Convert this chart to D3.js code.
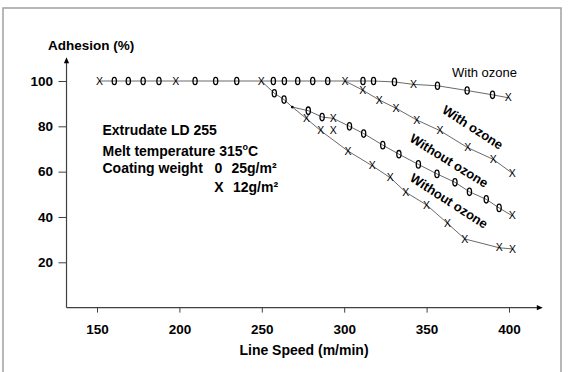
<!DOCTYPE html>
<html><head><meta charset="utf-8">
<script src="https://cdn.jsdelivr.net/npm/d3@7"></script>
<style>
body{margin:0;background:#fff}
svg{display:block}
text{font-family:Arial,"Liberation Sans",sans-serif;fill:#000}
</style>
</head><body>
<svg id="c" width="568" height="372"></svg>
<script>
// ---- data ----
const xTicks = [150, 200, 250, 300, 350, 400];
const yTicks = [20, 40, 60, 80, 100];

// With ozone, 25 g/m² (top line, X points of 12 g/m² coincide at 100 %)
const s1X = [151.5,160.5,169,178,187.6,197.8,209.5,222,234.8,249.7,257,263.7,271.8,280.9,290,300.5,311.4,317.8,330.5,342,356.6,374.6,390,399.6];
const s1Y = [100,100,100,100,100,100,100,100,100,100,100,100,100,100,100,100,100,100,99.6,98.5,97.9,95.8,93.9,92.6];
const s1M = ["X","0","0","0","0","X","0","0","0","X","0","0","0","0","0","X","0","0","0","X","0","0","0","X"];

// With ozone, 12 g/m²
const s2X = [300.5,311.2,321.3,331.4,344,358.1,374.9,390.5,402];
const s2Y = [100,96,91.6,88,82.8,78.1,70.6,65.4,59.3];
const s2M = ["","X","X","X","X","X","X","X","X"];

// Without ozone, 25 g/m²
const s3X = [249.7,257.6,263.5,268.5,278.2,286.6,293.4,303.2,311.8,323.4,333.2,345,356.3,367.2,376,386.2,394,402];
const s3Y = [100,94.6,91.8,88.5,86.9,84.1,83.5,80,76.8,71.7,67.7,63.2,59,55.3,51.1,47.8,44,40.5];
const s3M = ["","0","0","dot","0","0","X","0","0","0","0","0","0","0","0","0","0","X"];

// Without ozone, 12 g/m²
const s4X = [268.5,277.1,285.7,302.3,317,328,337.4,350,362.7,373.2,394.1,402.2];
const s4Y = [88.5,83.4,78.1,69.1,62.6,57.3,50.9,45.3,37.2,30.3,26.4,25.9];
const s4M = ["","X","X","X","X","X","X","X","X","X","X","X"];

// stray point
const extraX = [293.4];
const extraY = [78.1];
const extraM = ["X"];

const seriesLabels = ["With ozone", "With ozone", "Without ozone", "Without ozone"];
const infoLines = ["Extrudate LD 255", "Melt temperature 315", "Coating weight", "0", "25g/m²", "X", "12g/m²"];

// ---- drawing ----
const svg = d3.select("#c");
const x = d3.scaleLinear().domain([150, 400]).range([97, 509]);
const y = d3.scaleLinear().domain([20, 100]).range([262.3, 81]);

// frame
svg.append("rect").attr("x", 3).attr("y", 8).attr("width", 558).attr("height", 370)
  .attr("fill", "none").attr("stroke", "#a0a0a0").attr("stroke-width", 1.5);

const axisColor = "#404040";
const x0 = x(131.5), y0 = y(0);

// axes
const gx = svg.append("g").attr("transform", `translate(0,${y0})`)
  .call(d3.axisBottom(x).tickValues(xTicks).tickSize(5).tickPadding(12));
const gy = svg.append("g").attr("transform", `translate(${x0},0)`)
  .call(d3.axisLeft(y).tickValues(yTicks).tickSize(8).tickPadding(5.5));
[gx, gy].forEach(g => {
  g.select(".domain").remove();
  g.selectAll(".tick line").attr("stroke", axisColor).attr("stroke-width", 1);
  g.selectAll(".tick text").attr("font-size", 13.5).attr("font-weight", "bold")
    .attr("fill", "#000").style("font-family", 'Arial,"Liberation Sans",sans-serif');
});
// axis lines with arrows
const xEnd = x(420.5), yTop = y(110.5);
svg.append("line").attr("x1", x0).attr("y1", y0).attr("x2", xEnd - 4).attr("y2", y0)
  .attr("stroke", axisColor).attr("stroke-width", 1.2);
svg.append("line").attr("x1", x0).attr("y1", y0).attr("x2", x0).attr("y2", yTop + 4)
  .attr("stroke", axisColor).attr("stroke-width", 1.2);
svg.append("path").attr("d", `M${xEnd},${y0} L${xEnd - 6},${y0 - 2.6} L${xEnd - 6},${y0 + 2.6} Z`).attr("fill", "#000");
svg.append("path").attr("d", `M${x0},${yTop} L${x0 - 2.6},${yTop + 6} L${x0 + 2.6},${yTop + 6} Z`).attr("fill", "#000");

// axis titles
svg.append("text").attr("x", 48).attr("y", 50).attr("font-size", 13.5).attr("font-weight", "bold")
  .text("Adhesion (%)");
svg.append("text").attr("x", (x(150) + x(400)) / 2 + 1).attr("y", 355).attr("text-anchor", "middle")
  .attr("font-size", 14).attr("font-weight", "bold").text("Line Speed (m/min)");

// series
const series = [
  {xs: s1X, ys: s1Y, ms: s1M},
  {xs: s2X, ys: s2Y, ms: s2M},
  {xs: s3X, ys: s3Y, ms: s3M},
  {xs: s4X, ys: s4Y, ms: s4M}
];
const line = d3.line().x(d => x(d[0])).y(d => y(d[1]));
series.forEach(s => {
  const pts = s.xs.map((v, i) => [v, s.ys[i]]);
  svg.append("path").attr("d", line(pts)).attr("fill", "none")
    .attr("stroke", "#6a6a6a").attr("stroke-width", 1);
});

function drawMarker(px, py, m) {
  if (m === "0") {
    svg.append("ellipse").attr("cx", x(px)).attr("cy", y(py)).attr("rx", 2.1).attr("ry", 3.7)
      .attr("fill", "none").attr("stroke", "#000").attr("stroke-width", 1.3);
  } else if (m === "X") {
    svg.append("text").attr("x", x(px)).attr("y", y(py) + 3.6).attr("text-anchor", "middle")
      .attr("font-size", 10.5).text("X");
  } else if (m === "dot") {
    svg.append("circle").attr("cx", x(px)).attr("cy", y(py)).attr("r", 1.4).attr("fill", "#000");
  }
}
series.forEach(s => s.xs.forEach((v, i) => drawMarker(v, s.ys[i], s.ms[i])));
extraX.forEach((v, i) => drawMarker(v, extraY[i], extraM[i]));

// series labels
svg.append("text").attr("x", 484.5).attr("y", 76.5).attr("text-anchor", "middle")
  .attr("font-size", 13).text(seriesLabels[0]);
const rot = [
  {t: seriesLabels[1], vx: 378, vy: 79.6, a: 33},
  {t: seriesLabels[2], vx: 363.6, vy: 64.9, a: 32},
  {t: seriesLabels[3], vx: 363.6, vy: 47.1, a: 33}
];
rot.forEach(r => {
  svg.append("text").attr("transform", `translate(${x(r.vx)},${y(r.vy)}) rotate(${r.a})`)
    .attr("text-anchor", "middle").attr("dy", "0.35em")
    .attr("font-size", 13).attr("font-weight", "bold").text(r.t);
});

// info block
const info = svg.append("g").attr("font-size", 14).attr("font-weight", "bold");
info.append("text").attr("x", 102.5).attr("y", 134.5).text(infoLines[0]);
const t2 = info.append("text").attr("x", 102.5).attr("y", 155.5).text(infoLines[1]);
t2.append("tspan").attr("font-size", 9).attr("dy", -5.5).text("o");
t2.append("tspan").attr("dy", 5.5).text("C");
info.append("text").attr("x", 102.5).attr("y", 173).text(infoLines[2]);
info.append("text").attr("x", 218.5).attr("y", 173).attr("text-anchor", "middle").text(infoLines[3]);
info.append("text").attr("x", 231.5).attr("y", 173).text(infoLines[4]);
info.append("text").attr("x", 219).attr("y", 192).attr("text-anchor", "middle").text(infoLines[5]);
info.append("text").attr("x", 233).attr("y", 192).text(infoLines[6]);
</script>
</body></html>
